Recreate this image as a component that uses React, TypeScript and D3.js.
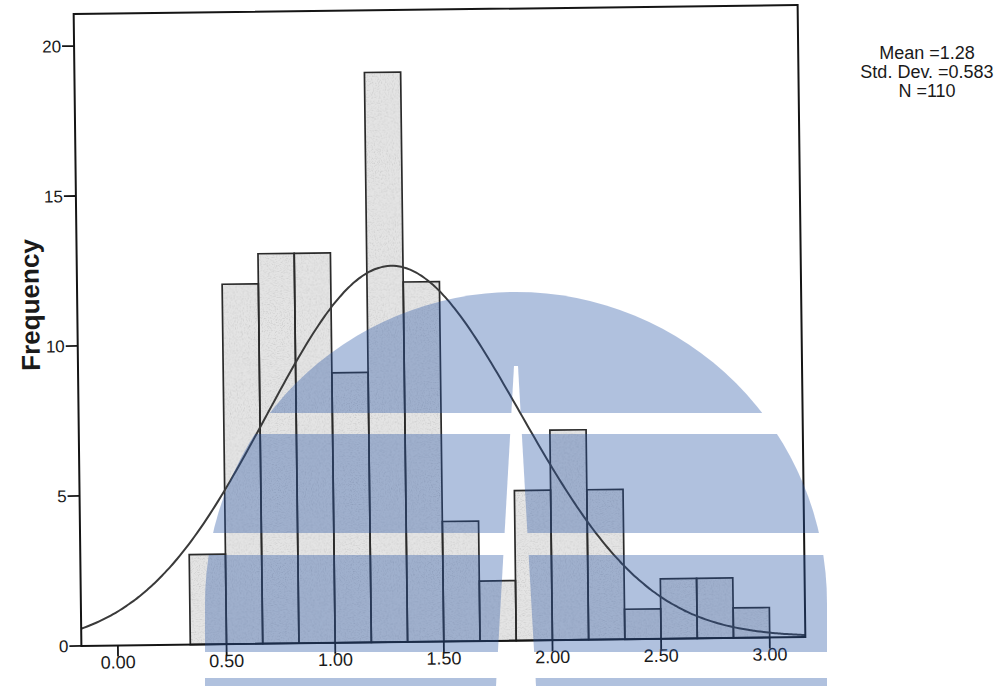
import React from "react";
import * as d3 from "d3";

// Histogram bins (lower edges) and their frequencies
const BIN_WIDTH = 1 / 6;
const binStarts = [
  1 / 3, 3 / 6, 4 / 6, 5 / 6, 6 / 6, 7 / 6, 8 / 6, 9 / 6,
  10 / 6, 11 / 6, 12 / 6, 13 / 6, 14 / 6, 15 / 6, 16 / 6, 17 / 6,
];
const counts = [3, 12, 13, 13, 9, 19, 12, 4, 2, 5, 7, 5, 1, 2, 2, 1];

// Summary statistics shown beside the plot
const MEAN = 1.28;
const STD_DEV = 0.583;
const N = 110;
const statLines = ["Mean =1.28", "Std. Dev. =0.583", "N =110"];

// Axis ticks
const xTickValues = [0, 0.5, 1, 1.5, 2, 2.5, 3];
const xTickLabels = ["0.00", "0.50", "1.00", "1.50", "2.00", "2.50", "3.00"];
const yTickValues = [0, 5, 10, 15, 20];
const yTickLabels = ["0", "5", "10", "15", "20"];

const W = 1004;
const H = 686;
const FONT = "'Liberation Sans', Arial, Helvetica, sans-serif";

// Plot frame
const FRAME = { left: 77.5, right: 801.5, top: 9.5, bottom: 641.5 };
const X_EXTENT = [-0.168, 3.164];
const Y_EXTENT = [0, 21.07];

// Emblem overlay geometry
const EMBLEM = { cx: 516, cy: 603, r: 311, bottom: 686 };
const EMBLEM_GAPS = [
  [413, 434],
  [533, 555],
  [652, 678],
];

export default function App() {
  const x = d3.scaleLinear().domain(X_EXTENT).range([FRAME.left, FRAME.right]);
  const y = d3.scaleLinear().domain(Y_EXTENT).range([FRAME.bottom, FRAME.top]);

  // Normal curve scaled to frequency per bin
  const peak = (N * BIN_WIDTH) / (STD_DEV * Math.sqrt(2 * Math.PI));
  const curvePts = d3.range(0, 241).map((i) => {
    const v = X_EXTENT[0] + ((X_EXTENT[1] - X_EXTENT[0]) * i) / 240;
    const z = (v - MEAN) / STD_DEV;
    return [v, peak * Math.exp(-0.5 * z * z)] as [number, number];
  });
  const line = d3
    .line<[number, number]>()
    .x((d) => x(d[0]))
    .y((d) => y(d[1]))
    .curve(d3.curveBasis);

  const { cx, cy, r, bottom } = EMBLEM;
  const emblemPath =
    `M${cx - r},${bottom} L${cx - r},${cy} A${r},${r} 0 0 1 ${cx + r},${cy} ` +
    `L${cx + r},${bottom} Z`;

  return (
    <svg
      width={W}
      height={H}
      viewBox={`0 0 ${W} ${H}`}
      style={{ position: "absolute", left: 0, top: 0, display: "block", background: "#fff" }}
      fontFamily={FONT}
    >
      <defs>
        <mask id="emblemMask" maskUnits="userSpaceOnUse" x={0} y={0} width={W} height={H}>
          <path d={emblemPath} fill="#fff" />
          {EMBLEM_GAPS.map(([a, b], i) => (
            <rect key={i} x={0} y={a} width={W} height={b - a} fill="#000" />
          ))}
          <polygon points={`514,366 518,366 536,${H} 496,${H}`} fill="#000" />
        </mask>
        {/* fine speckle for the bar fill */}
        <filter id="grain" x="0" y="0" width="100%" height="100%">
          <feTurbulence type="fractalNoise" baseFrequency="0.85" numOctaves={2} seed={7} result="noise" />
          <feColorMatrix
            in="noise"
            type="matrix"
            values="0 0 0 0 0.45  0 0 0 0 0.45  0 0 0 0 0.45  0 0 0 1.6 -0.78"
            result="specks"
          />
          <feComposite in="specks" in2="SourceGraphic" operator="in" result="clipped" />
          <feMerge>
            <feMergeNode in="SourceGraphic" />
            <feMergeNode in="clipped" />
          </feMerge>
        </filter>
      </defs>

      <g transform="rotate(-0.7 440 325)">
        {/* bar fills */}
        <g filter="url(#grain)">
          {binStarts.map((s, i) => (
            <rect
              key={i}
              x={x(s)}
              y={y(counts[i])}
              width={x(s + BIN_WIDTH) - x(s)}
              height={y(0) - y(counts[i])}
              fill="#e4e4e4"
            />
          ))}
        </g>
        {/* bar outlines */}
        {binStarts.map((s, i) => (
          <rect
            key={i}
            x={x(s)}
            y={y(counts[i])}
            width={x(s + BIN_WIDTH) - x(s)}
            height={y(0) - y(counts[i])}
            fill="none"
            stroke="#2a2a2a"
            strokeWidth={1.7}
          />
        ))}

        {/* normal curve */}
        <path d={line(curvePts) || ""} fill="none" stroke="#3a3a3a" strokeWidth={2} />

        {/* frame */}
        <rect
          x={FRAME.left}
          y={FRAME.top}
          width={FRAME.right - FRAME.left}
          height={FRAME.bottom - FRAME.top}
          fill="none"
          stroke="#151515"
          strokeWidth={2}
        />

        {/* y axis */}
        {yTickValues.map((v, i) => (
          <g key={i}>
            <line x1={FRAME.left - 12} x2={FRAME.left} y1={y(v)} y2={y(v)} stroke="#151515" strokeWidth={1.8} />
            <text x={FRAME.left - 13} y={y(v)} dy="0.36em" textAnchor="end" fontSize={17} fill="#1a1a1a">
              {yTickLabels[i]}
            </text>
          </g>
        ))}

        {/* x axis */}
        {xTickValues.map((v, i) => (
          <g key={i}>
            <line x1={x(v)} x2={x(v)} y1={FRAME.bottom} y2={FRAME.bottom + 11} stroke="#151515" strokeWidth={1.8} />
            <text x={x(v)} y={FRAME.bottom + 23} textAnchor="middle" fontSize={18} fill="#1a1a1a">
              {xTickLabels[i]}
            </text>
          </g>
        ))}

        <text
          transform="translate(30 300) rotate(-90)"
          textAnchor="middle"
          dy="0.36em"
          fontSize={26}
          fontWeight="bold"
          fill="#1a1a1a"
        >
          Frequency
        </text>
      </g>

      {/* statistics */}
      {statLines.map((t, i) => (
        <text key={i} x={927} y={59 + i * 19} textAnchor="middle" fontSize={18} fill="#1a1a1a">
          {t}
        </text>
      ))}

      {/* emblem overlay */}
      <rect x={0} y={0} width={W} height={H} fill="rgb(40,85,165)" opacity={0.36} mask="url(#emblemMask)" />
    </svg>
  );
}
